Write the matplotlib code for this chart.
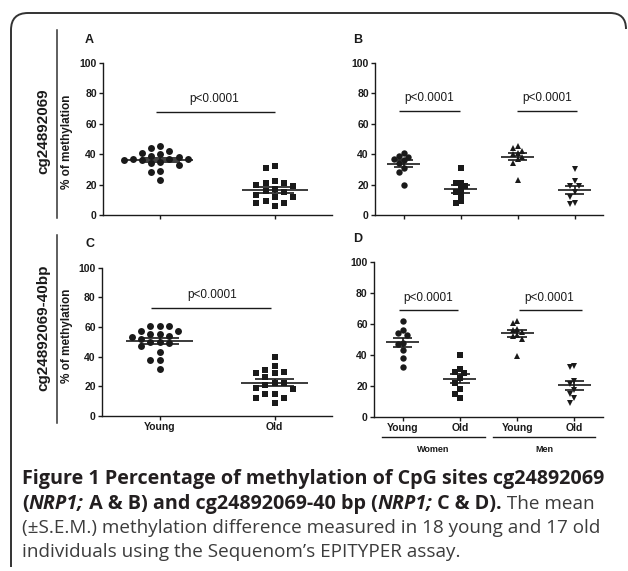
import numpy as np
import matplotlib
matplotlib.use('Agg')
import matplotlib.pyplot as plt
from matplotlib.path import Path
from matplotlib.patches import PathPatch
from matplotlib.lines import Line2D
import matplotlib.transforms as mtransforms

W, H = 628, 571
DPI = 100

# ---------------- data ----------------
young_a = [45, 44, 42, 41, 40, 39, 38, 37, 37, 37, 36, 36, 35, 34, 33, 29, 28, 23]
old_a = [32, 31, 22, 21, 21, 20, 19, 17, 16, 15, 13, 12, 12, 9, 8, 8, 6]

women_young_b = [40.5, 39, 38, 37, 36, 34, 31, 28, 20]
women_old_b = [31, 21, 21, 19, 17, 15, 13, 9, 8]
men_young_b = [45, 44, 42, 41, 40, 38, 37, 34, 23]
men_old_b = [30, 22, 19, 19, 15, 12, 7, 8]

young_c = [61, 61, 61, 57, 57, 55, 55, 54, 53, 52, 50, 50, 49, 47, 43, 38, 38, 32]
old_c = [40, 34, 31, 30, 29, 29, 26, 22, 22, 21, 19, 18, 15, 15, 12, 12, 9]

women_young_d = [62, 56, 54, 53, 48, 47, 43, 38, 32]
women_old_d = [40, 31, 29, 28, 25, 22, 18, 15, 12]
men_young_d = [62, 61, 57, 56, 55, 53, 52, 50, 39]
men_old_d = [33, 32, 23, 21, 17, 15, 12, 9]

labels_ac = ['Young', 'Old']
labels_d = ['Young', 'Old', 'Young', 'Old']
sex_groups = ['Women', 'Men']
yticks = [0, 20, 40, 60, 80, 100]
p_text = 'p<0.0001'
row_labels = ['cg24892069', 'cg24892069-40bp']
panel_letters = ['A', 'B', 'C', 'D']
ylabel = '% of methylation'

caption_line1 = [('Figure 1 Percentage of methylation of CpG sites cg24892069', 'bold', 'normal')]
caption_line2 = [('(', 'bold', 'normal'), ('NRP1;', 'bold', 'italic'),
                 (' A & B) and cg24892069-40 bp (', 'bold', 'normal'),
                 ('NRP1;', 'bold', 'italic'), (' C & D).', 'bold', 'normal'),
                 (' The mean', 'normal', 'normal')]
caption_line3 = [('(\u00b1S.E.M.) methylation difference measured in 18 young and 17 old', 'normal', 'normal')]
caption_line4 = [('individuals using the Sequenom\u2019s EPITYPER assay.', 'normal', 'normal')]

# ---------------- style ----------------
plt.rcParams['font.family'] = ['Liberation Sans', 'DejaVu Sans']
INK = '#1a1a1a'

fig = plt.figure(figsize=(W / DPI, H / DPI), dpi=DPI)
px2fig = mtransforms.Affine2D().scale(1 / W, -1 / H).translate(0, 1) + fig.transFigure


def ax_px(x0, x1, ytop, ybot):
    return fig.add_axes([x0 / W, 1 - ybot / H, (x1 - x0) / W, (ybot - ytop) / H])


def swarm(vals, step=0.08, thr=4.6):
    vals = np.asarray(vals, float)
    order = np.argsort(-vals, kind='stable')
    placed = []
    offs = np.zeros(len(vals))
    cands = [0]
    for j in range(1, 30):
        cands += [-j, j]
    for i in order:
        v = vals[i]
        for c in cands:
            if all(not (pc == c and abs(pv - v) < thr) for pc, pv in placed):
                break
        placed.append((c, v))
        offs[i] = c * step
    return offs


def draw_group(ax, x, vals, marker, ms, thr=4.6):
    vals = np.asarray(vals, float)
    offs = swarm(vals, thr=thr)
    ax.plot(x + offs, vals, linestyle='none', marker=marker, ms=ms,
            color=INK, mec=INK, mew=0, zorder=3, clip_on=False)
    m = vals.mean()
    sem = vals.std(ddof=1) / np.sqrt(len(vals))
    ax.hlines(m, x - 0.29, x + 0.29, color=INK, lw=1.2, zorder=4)
    ax.hlines([m - sem, m + sem], x - 0.17, x + 0.17, color=INK, lw=1.2, zorder=4)
    ax.vlines(x, m - sem, m + sem, color=INK, lw=1.2, zorder=4)


def style(ax, xlim, ticks, ticklabels):
    ax.set_xlim(*xlim)
    ax.set_ylim(0, 100)
    for s in ['top', 'right']:
        ax.spines[s].set_visible(False)
    for s in ['left', 'bottom']:
        ax.spines[s].set_linewidth(1.0)
        ax.spines[s].set_color(INK)
    ax.set_yticks(yticks)
    ax.set_yticklabels([str(t) for t in yticks], fontweight='bold', fontsize=7.5)
    ax.set_xticks(ticks)
    ax.set_xticklabels(ticklabels, fontweight='bold', fontsize=7.5)
    ax.tick_params(direction='out', length=3, width=1.0, pad=1.5, colors=INK)
    ax.patch.set_visible(False)


def sig(ax, x0, x1, y, tx, ty):
    ax.hlines(y, x0, x1, color=INK, lw=1.0)
    ax.text(tx, ty, p_text, ha='center', va='center', fontsize=8.5, color=INK)


# ---------------- panel A ----------------
axA = ax_px(103, 332, 62.7, 215)
draw_group(axA, 1, young_a, 'o', 5.0)
draw_group(axA, 2, old_a, 's', 4.8)
style(axA, (0.5, 2.5), [1, 2], ['', ''])
sig(axA, 0.96, 2.0, 67.8, 1.47, 76)

# ---------------- panel B ----------------
axB = ax_px(375, 603, 62.7, 215)
draw_group(axB, 1, women_young_b, 'o', 4.6, 4.0)
draw_group(axB, 2, women_old_b, 's', 4.5, 4.0)
draw_group(axB, 3, men_young_b, '^', 4.6, 4.0)
draw_group(axB, 4, men_old_b, 'v', 4.6, 4.0)
style(axB, (0.5, 4.5), [1, 2, 3, 4], ['', '', '', ''])
sig(axB, 0.92, 1.99, 68.3, 1.45, 77)
sig(axB, 2.99, 4.04, 68.3, 3.52, 77)

# ---------------- panel C ----------------
axC = ax_px(102, 332, 267.7, 416)
draw_group(axC, 1, young_c, 'o', 5.0)
draw_group(axC, 2, old_c, 's', 4.8)
style(axC, (0.5, 2.5), [1, 2], labels_ac)
sig(axC, 0.93, 1.97, 73, 1.46, 81.6)

# ---------------- panel D ----------------
axD = ax_px(374, 603, 262.3, 416.7)
draw_group(axD, 1, women_young_d, 'o', 4.6, 4.0)
draw_group(axD, 2, women_old_d, 's', 4.5, 4.0)
draw_group(axD, 3, men_young_d, '^', 4.6, 4.0)
draw_group(axD, 4, men_old_d, 'v', 4.6, 4.0)
style(axD, (0.5, 4.5), [1, 2, 3, 4], labels_d)
sig(axD, 0.94, 1.97, 69, 1.45, 77)
sig(axD, 3.03, 4.13, 69, 3.56, 77)

trD = mtransforms.blended_transform_factory(axD.transData, axD.transAxes)
for (gx0, gx1), name in zip([(0.64, 2.44), (2.58, 4.36)], sex_groups):
    axD.add_line(Line2D([gx0, gx1], [-0.131, -0.131], transform=trD, color=INK,
                        lw=1.0, clip_on=False))
    axD.text((gx0 + gx1) / 2, -0.215, name, transform=trD, ha='center', va='center',
             fontsize=6.5, fontweight='bold', color=INK)

# ---------------- panel letters and row labels ----------------
for (lx, ly), letter in zip([(85, 40), (353, 40), (85, 244), (353, 239)], panel_letters):
    fig.text(lx / W, 1 - ly / H, letter, ha='left', va='center', fontsize=9,
             fontweight='bold', color=INK)

for (cy, y0, y1), lab in zip([(131, 30, 218), (328, 235, 423)], row_labels):
    fig.text(43 / W, 1 - cy / H, lab, rotation=90, ha='center', va='center',
             fontsize=11, fontweight='bold', color=INK)
    fig.add_artist(Line2D([57 / W, 57 / W], [1 - y0 / H, 1 - y1 / H],
                          transform=fig.transFigure, color='#333333', lw=1.1))

for cy in [142, 336]:
    fig.text(67 / W, 1 - cy / H, ylabel, rotation=90, ha='center', va='center',
             fontsize=8.5, fontweight='bold', color=INK)

# ---------------- border ----------------
verts = [(11, 567), (11, 30), (11, 13), (28, 13), (610, 13), (626, 13), (626, 29)]
codes = [Path.MOVETO, Path.LINETO, Path.CURVE3, Path.CURVE3, Path.LINETO, Path.CURVE3, Path.CURVE3]
fig.add_artist(PathPatch(Path(verts, codes), transform=px2fig, fill=False,
                         edgecolor='#333333', lw=1.4))

# ---------------- caption ----------------
renderer = fig.canvas.get_renderer()
CAP_FONT = ['Open Sans', 'DejaVu Sans']


def fit_size(text, weight, target):
    probe = fig.text(0, 0, text, fontsize=10, fontweight=weight, family=CAP_FONT)
    w = probe.get_window_extent(renderer).width
    probe.remove()
    return 10 * target / w


size_bold = fit_size(caption_line1[0][0], 'bold', 585.0)
size_reg = fit_size(caption_line3[0][0], 'normal', 578.0)


def caption_line(segments, x, ybase):
    for s, wgt, sty in segments:
        col = '#231f20' if wgt == 'bold' else '#3c3c3c'
        fs = size_bold if wgt == 'bold' else size_reg
        t = fig.text(x / W, 1 - ybase / H, s, fontsize=fs, fontweight=wgt,
                     fontstyle=sty, family=CAP_FONT, ha='left', va='baseline', color=col)
        x += t.get_window_extent(renderer).width


for segs, yb in zip([caption_line1, caption_line2, caption_line3, caption_line4],
                    [484, 509, 533, 557]):
    caption_line(segs, 22, yb)

fig.savefig('out.png', dpi=DPI)
